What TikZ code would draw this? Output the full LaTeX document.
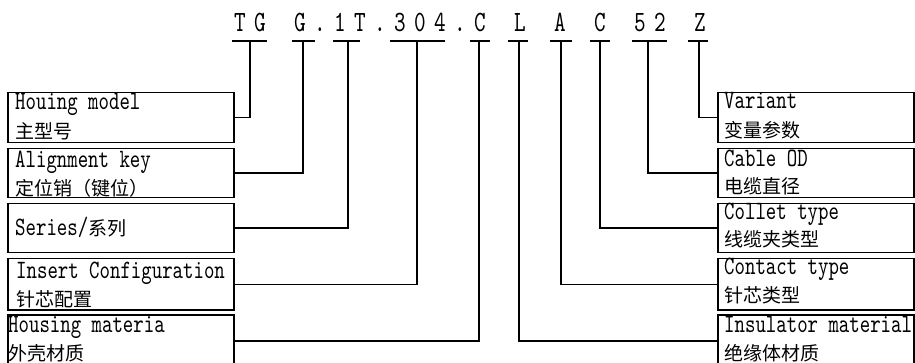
\documentclass[tikz,border=0pt]{standalone}
\usepackage{fontspec}
\newfontfamily\latfont[FakeStretch=0.75]{lmmono10-regular.otf}
\newfontfamily\cjkfont{Noto Sans CJK SC}
\begin{document}
\begin{tikzpicture}[x=1pt,y=-1pt,
  box/.style={draw, line width=1.5pt, rectangle, minimum width=226pt, minimum height=50pt, inner sep=0pt, anchor=north west},
  rbox/.style={box, minimum width=196pt},
  wire/.style={line width=1.5pt},
  lat/.style={font=\latfont\fontsize{26.5}{28}\selectfont, inner sep=0pt, anchor=base west},
  cjk/.style={font=\cjkfont\fontsize{19}{20}\selectfont, inner sep=0pt, anchor=base west},
  topch/.style={font=\latfont\fontsize{29.5}{31}\selectfont, inner sep=0pt, anchor=base},
]
\useasboundingbox (0,0) rectangle (915,363);

% code characters
\foreach \c [count=\i] in {T,G,{},G,.,1,T,.,3,0,4,.,C,{},L,{},A,{},C,{},5,2,{},Z}
  \node[topch] (ch\i) at ({220+20*\i},32) {\c};

% underlines and stem tops
\foreach \a/\b/\s/\n in {232/267/250/1, 292/315/303/2, 333/360/348/3, 390/445/417/4, 470/490/479/5,
                         508/528/519/6, 550/572/561/7, 590/610/600/8, 632/667/648/9, 688/708/699/10} {
  \coordinate (ua\n) at (\a,41);
  \coordinate (ub\n) at (\b,41);
  \coordinate (s\n) at (\s,41);
  \draw[wire] (ua\n) -- (ub\n);
}

% left boxes
\node[box, minimum height=50pt] (L1) at (7,92) {};
\node[box, minimum height=49pt] (L2) at (7,148) {};
\node[box, minimum height=49pt] (L3) at (7,203) {};
\node[box, minimum height=51pt] (L4) at (7,258) {};
\node[box, minimum height=52pt] (L5) at (7,314) {};

\node[lat] (t1a) at (15,110) {Houing model};
\node[cjk] (t1b) at (15,138.5) {主型号};
\node[lat] (t2a) at (15,168) {Alignment key};
\node[cjk] (t2b) at (15,196) {定位销（键位）};
\node[lat] (t3a) at (15,236) {Series/\cjkfont\fontsize{19}{20}\selectfont 系列};
\node[lat] (t4a) at (16,278) {Insert Configuration};
\node[cjk] (t4b) at (16,306) {针芯配置};
\node[lat] (t5a) at (8,332) {Housing materia};
\node[cjk] (t5b) at (8,360.5) {外壳材质};

% right boxes
\node[rbox, minimum height=50pt] (R1) at (717,92) {};
\node[rbox, minimum height=49pt] (R2) at (717,148) {};
\node[rbox, minimum height=49pt] (R3) at (717,203) {};
\node[rbox, minimum height=51pt] (R4) at (717,258) {};
\node[rbox, minimum height=52pt] (R5) at (717,314) {};

\node[lat] (r1a) at (724,109) {Variant};
\node[cjk] (r1b) at (724,138) {变量参数};
\node[lat] (r2a) at (724,167) {Cable OD};
\node[cjk] (r2b) at (724,194) {电缆直径};
\node[lat] (r3a) at (724,220) {Collet type};
\node[cjk] (r3b) at (724,247) {线缆夹类型};
\node[lat] (r4a) at (724,275) {Contact type};
\node[cjk] (r4b) at (724,302) {针芯类型};
\node[lat] (r5a) at (724,332) {Insulator material};
\node[cjk] (r5b) at (724,360.5) {绝缘体材质};

% connectors
\draw[wire] (L1.east) -| (s1);
\draw[wire] (L2.east) -| (s2);
\draw[wire] (L3.east) -| (s3);
\draw[wire] (L4.east) -| (s4);
\draw[wire] (L5.east) -| (s5);
\draw[wire] (R5.west) -| (s6);
\draw[wire] (R4.west) -| (s7);
\draw[wire] (R3.west) -| (s8);
\draw[wire] (R2.west) -| (s9);
\draw[wire] (R1.west) -| (s10);
\end{tikzpicture}
\end{document}
